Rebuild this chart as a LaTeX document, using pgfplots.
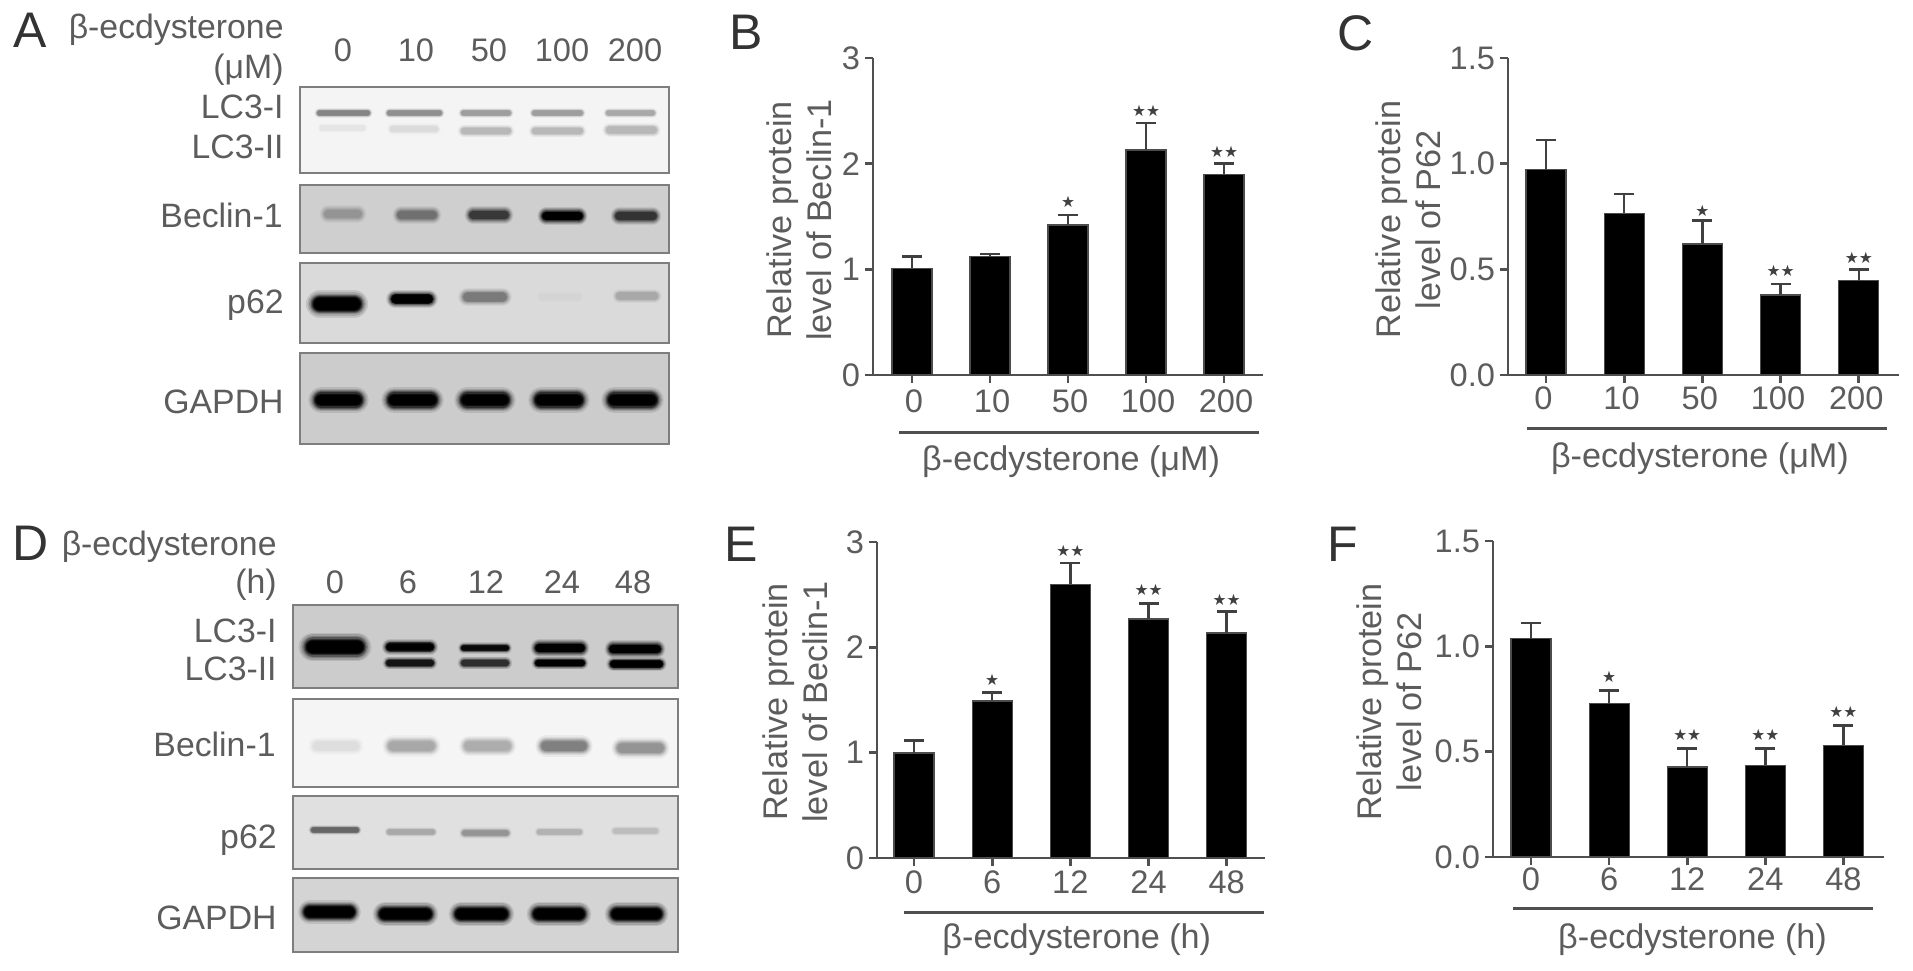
\documentclass[border=0pt]{standalone}
\usepackage{fontspec}
\setmainfont{Liberation Sans}
\newfontfamily\symfont{DejaVu Sans}
\usepackage{pgfplots}
\pgfplotsset{compat=1.18}
\definecolor{txt}{HTML}{5C5C5C}
\definecolor{axc}{HTML}{505050}
\definecolor{bord}{HTML}{7E7E7E}
\newcommand\bl[6]{\addplot[forget plot,line cap=round,opacity=#6,line width={#4*#5 pt},color=bcol] coordinates {(#1+#4*0.35,#3)(#2-#4*0.35,#3)};}
\newcommand\band[5]{%
  \addplot[forget plot,line cap=round,opacity=0.10,line width={#4*0.72pt},color={rgb,1:red,#5;green,#5;blue,#5}] coordinates {(#1+#4*0.35,#3)(#2-#4*0.35,#3)};
  \addplot[forget plot,line cap=round,opacity=0.14,line width={#4*0.63pt},color={rgb,1:red,#5;green,#5;blue,#5}] coordinates {(#1+#4*0.35,#3)(#2-#4*0.35,#3)};
  \addplot[forget plot,line cap=round,opacity=0.20,line width={#4*0.55pt},color={rgb,1:red,#5;green,#5;blue,#5}] coordinates {(#1+#4*0.35,#3)(#2-#4*0.35,#3)};
  \addplot[forget plot,line cap=round,opacity=0.30,line width={#4*0.48pt},color={rgb,1:red,#5;green,#5;blue,#5}] coordinates {(#1+#4*0.35,#3)(#2-#4*0.35,#3)};
  \addplot[forget plot,line cap=round,opacity=0.45,line width={#4*0.42pt},color={rgb,1:red,#5;green,#5;blue,#5}] coordinates {(#1+#4*0.35,#3)(#2-#4*0.35,#3)};
  \addplot[forget plot,line cap=round,opacity=0.70,line width={#4*0.36pt},color={rgb,1:red,#5;green,#5;blue,#5}] coordinates {(#1+#4*0.35,#3)(#2-#4*0.35,#3)};
  \addplot[forget plot,line cap=round,opacity=1,line width={#4*0.30pt},color={rgb,1:red,#5;green,#5;blue,#5}] coordinates {(#1+#4*0.35,#3)(#2-#4*0.35,#3)};
}
\newcommand\blot[5]{%
  \addplot[forget plot,fill={rgb,1:red,#5;green,#5;blue,#5},draw=bord,line width=0.9pt] coordinates {(#1,#3)(#2,#3)(#2,#4)(#1,#4)} --cycle;
}
\newcommand\ulin[3]{\addplot[forget plot,color=axc,line width=1.5pt] coordinates {(#1,#3)(#2,#3)};}
\newcommand\lab[3]{\node[anchor=base east,inner sep=0pt,text=txt,font=\fontsize{16.9}{18}\selectfont] at (axis cs:#1,#2) {#3};}
\newcommand\lane[3]{\node[anchor=base,inner sep=0pt,text=txt,font=\fontsize{16.3}{18}\selectfont] at (axis cs:#1,#2) {#3};}
\newcommand\letter[3]{\node[anchor=base west,inner sep=0pt,text=black!80,font=\fontsize{25}{28}\selectfont] at (axis cs:#1,#2) {#3};}
\pgfplotsset{
  barax/.style={
    scale only axis, anchor=south west, axis lines*=left, ymin=0,
    axis line style={color=axc,line width=1.35pt},
    tick style={color=axc,line width=1.35pt},
    major tick length=3.8pt, tick align=outside,
    xtick={0,1,2,3,4}, clip=false,
    tick label style={font=\fontsize{16.3}{18}\selectfont,text=txt},
    yticklabel style={inner sep=0pt,xshift=-2.5pt},
    xticklabel style={anchor=base,inner sep=0pt},
    label style={font=\fontsize{17.1}{20}\selectfont,text=txt},
  },
  thebar/.style={ybar,bar width=20pt,bar shift=0pt,fill=black,draw=black!70,line width=0.6pt,
    error bars/.cd,y dir=plus,y explicit,
    error bar style={color=black!75,line width=1.25pt},
    error mark options={color=black!75,line width=1.25pt,mark size=5pt,rotate=90}},
  stars/.style={only marks,mark=none,point meta=explicit symbolic,nodes near coords,
    every node near coord/.style={anchor=center,inner sep=0pt,text=black!75,font=\symfont\fontsize{7.8}{8}\selectfont}},
}
\begin{document}
\begin{tikzpicture}
\path[use as bounding box] (0,0) rectangle (956.5pt,485pt);
% ---------- blots and text, in picture pixels
\begin{axis}[at={(0,0)},anchor=south west,scale only axis,width=956.5pt,height=485pt,
  xmin=0,xmax=1913,ymin=0,ymax=970,y dir=reverse,hide axis,clip=false]
% panel A
\blot{300}{669}{87}{173}{0.955}
\blot{300}{669}{185}{253}{0.81}
\blot{300}{669}{263}{343}{0.855}
\blot{300}{669}{353}{444}{0.80}
\band{317}{370}{113}{7}{0.52}
\band{387}{442}{113}{7}{0.56}
\band{461}{511}{113}{7}{0.62}
\band{532}{583}{113}{7}{0.62}
\band{606}{655}{113}{7}{0.66}
\band{320}{365}{128}{7}{0.90}
\band{390}{438}{129}{8}{0.86}
\band{461}{511}{131}{9}{0.72}
\band{532}{583}{131}{9}{0.72}
\band{606}{657}{130}{10}{0.72}
\band{324}{362}{214}{12}{0.58}
\band{397}{437}{215}{12}{0.44}
\band{469}{509}{215}{12}{0.22}
\band{542}{583}{216}{12}{0.0}
\band{615}{657}{216}{12}{0.20}
\band{313}{361}{304}{19}{0.0}
\band{391}{433}{299}{13}{0.0}
\band{463}{507}{297}{13}{0.48}
\band{540}{580}{297}{8}{0.83}
\band{616}{658}{296}{10}{0.66}
\band{315}{362}{400}{18}{0.0}
\band{388}{437}{400}{18}{0.0}
\band{461}{509}{400}{18}{0.0}
\band{535}{583}{400}{18}{0.0}
\band{608}{657}{400}{18}{0.0}
% panel D
\blot{293}{678}{605}{688}{0.80}
\blot{293}{678}{699}{787}{0.96}
\blot{293}{678}{796}{869}{0.88}
\blot{293}{678}{878}{952}{0.83}
\band{306}{364}{647}{20}{0.0}
\band{386}{434}{647}{11}{0.0}
\band{461}{509}{648}{8}{0.03}
\band{535}{585}{648}{12}{0.0}
\band{609}{661}{649}{12}{0.0}
\band{386}{434}{663}{9}{0.08}
\band{461}{509}{663}{9}{0.18}
\band{535}{585}{663}{9}{0.0}
\band{610}{663}{664}{10}{0.0}
\band{313}{359}{746}{13}{0.87}
\band{388}{435}{746}{15}{0.66}
\band{464}{511}{746}{14}{0.68}
\band{541}{587}{746}{15}{0.50}
\band{617}{664}{748}{15}{0.58}
\band{311}{359}{830}{7}{0.40}
\band{387}{435}{832}{7}{0.66}
\band{462}{509}{833}{8}{0.58}
\band{537}{582}{832}{7}{0.70}
\band{613}{658}{831}{7}{0.74}
\band{304}{355}{912}{16}{0.0}
\band{379}{432}{914}{17}{0.0}
\band{455}{508}{914}{17}{0.0}
\band{533}{585}{914}{17}{0.0}
\band{611}{662}{914}{17}{0.0}
% underlines
\ulin{899}{1259}{432}
\ulin{1527}{1887}{428}
\ulin{904}{1264}{912}
\ulin{1513}{1873}{908}
% panel letters
\letter{13}{47}{A}
\letter{729}{49}{B}
\letter{1337}{50}{C}
\letter{12}{560}{D}
\letter{724}{561}{E}
\letter{1327}{561}{F}
% labels A
\lab{284}{38}{β-ecdysterone}
\lab{284}{78}{(μM)}
\lab{284}{118}{LC3-I}
\lab{284}{158}{LC3-II}
\lab{283}{227}{Beclin-1}
\lab{284}{313}{p62}
\lab{284}{413}{GAPDH}
\lane{343}{61}{0}
\lane{416}{61}{10}
\lane{489}{61}{50}
\lane{562}{61}{100}
\lane{635}{61}{200}
% labels D
\lab{277}{555}{β-ecdysterone}
\lab{277}{593}{(h)}
\lab{277}{642}{LC3-I}
\lab{277}{680}{LC3-II}
\lab{276}{756}{Beclin-1}
\lab{277}{848}{p62}
\lab{277}{929}{GAPDH}
\lane{335}{593}{0}
\lane{408}{593}{6}
\lane{486}{593}{12}
\lane{562}{593}{24}
\lane{633}{593}{48}
\end{axis}
% ---------- B
\begin{axis}[barax,at={(436.5pt,297.5pt)},width=195pt,height=158.5pt,
  xmin=-0.5,xmax=4.5,ymax=3,ytick={0,1,2,3},yticklabels={0,1,2,3},
  xticklabels={0,10,50,100,200},xticklabel style={yshift=-15pt,xshift=1pt},
  xlabel={β-ecdysterone (μM)},x label style={at={(axis description cs:0.508,-0.30)},anchor=base},
  ylabel={Relative protein\\level of Beclin-1},y label style={at={(axis description cs:-0.19,0.489)},anchor=center,align=center}]
\addplot[thebar] coordinates {(0,1.01)+-(0,0.11) (1,1.12)+-(0,0.026) (2,1.42)+-(0,0.095) (3,2.13)+-(0,0.255) (4,1.90)+-(0,0.10)};
\addplot[stars] coordinates {(2,1.636)[★] (3,2.495)[★★] (4,2.116)[★★]};
\end{axis}
% ---------- C
\begin{axis}[barax,at={(754pt,297.5pt)},width=195.5pt,height=158.5pt,
  xmin=-0.486,xmax=4.514,ymax=1.5,ytick={0,0.5,1,1.5},yticklabels={0.0,0.5,1.0,1.5},
  xticklabels={0,10,50,100,200},xticklabel style={yshift=-13.5pt,xshift=-1.3pt},
  xlabel={β-ecdysterone (μM)},x label style={at={(axis description cs:0.491,-0.293)},anchor=base},
  ylabel={Relative protein\\level of P62},y label style={at={(axis description cs:-0.256,0.49)},anchor=center,align=center}]
\addplot[thebar] coordinates {(0,0.971)+-(0,0.142) (1,0.766)+-(0,0.091) (2,0.62)+-(0,0.111) (3,0.379)+-(0,0.052) (4,0.447)+-(0,0.053)};
\addplot[stars] coordinates {(2,0.778)[★] (3,0.493)[★★] (4,0.556)[★★]};
\end{axis}
% ---------- E
\begin{axis}[barax,at={(438.5pt,56pt)},width=194pt,height=158pt,
  xmin=-0.473,xmax=4.49,ymax=3,ytick={0,1,2,3},yticklabels={0,1,2,3},
  xticklabels={0,6,12,24,48},xticklabel style={yshift=-14pt},
  xlabel={β-ecdysterone (h)},x label style={at={(axis description cs:0.515,-0.285)},anchor=base},
  ylabel={Relative protein\\level of Beclin-1},y label style={at={(axis description cs:-0.21,0.494)},anchor=center,align=center}]
\addplot[thebar] coordinates {(0,0.997)+-(0,0.12) (1,1.49)+-(0,0.083) (2,2.598)+-(0,0.202) (3,2.269)+-(0,0.146) (4,2.136)+-(0,0.206)};
\addplot[stars] coordinates {(1,1.687)[★] (2,2.914)[★★] (3,2.547)[★★] (4,2.452)[★★]};
\end{axis}
% ---------- F
\begin{axis}[barax,at={(746.5pt,56.5pt)},width=195.25pt,height=158pt,
  xmin=-0.487,xmax=4.513,ymax=1.5,ytick={0,0.5,1,1.5},yticklabels={0.0,0.5,1.0,1.5},
  xticklabels={0,6,12,24,48},xticklabel style={yshift=-13pt},
  xlabel={β-ecdysterone (h)},x label style={at={(axis description cs:0.511,-0.288)},anchor=base},
  ylabel={Relative protein\\level of P62},y label style={at={(axis description cs:-0.266,0.49)},anchor=center,align=center}]
\addplot[thebar] coordinates {(0,1.036)+-(0,0.075) (1,0.728)+-(0,0.063) (2,0.427)+-(0,0.087) (3,0.435)+-(0,0.081) (4,0.530)+-(0,0.095)};
\addplot[stars] coordinates {(1,0.854)[★] (2,0.578)[★★] (3,0.578)[★★] (4,0.691)[★★]};
\end{axis}
\end{tikzpicture}
\end{document}
